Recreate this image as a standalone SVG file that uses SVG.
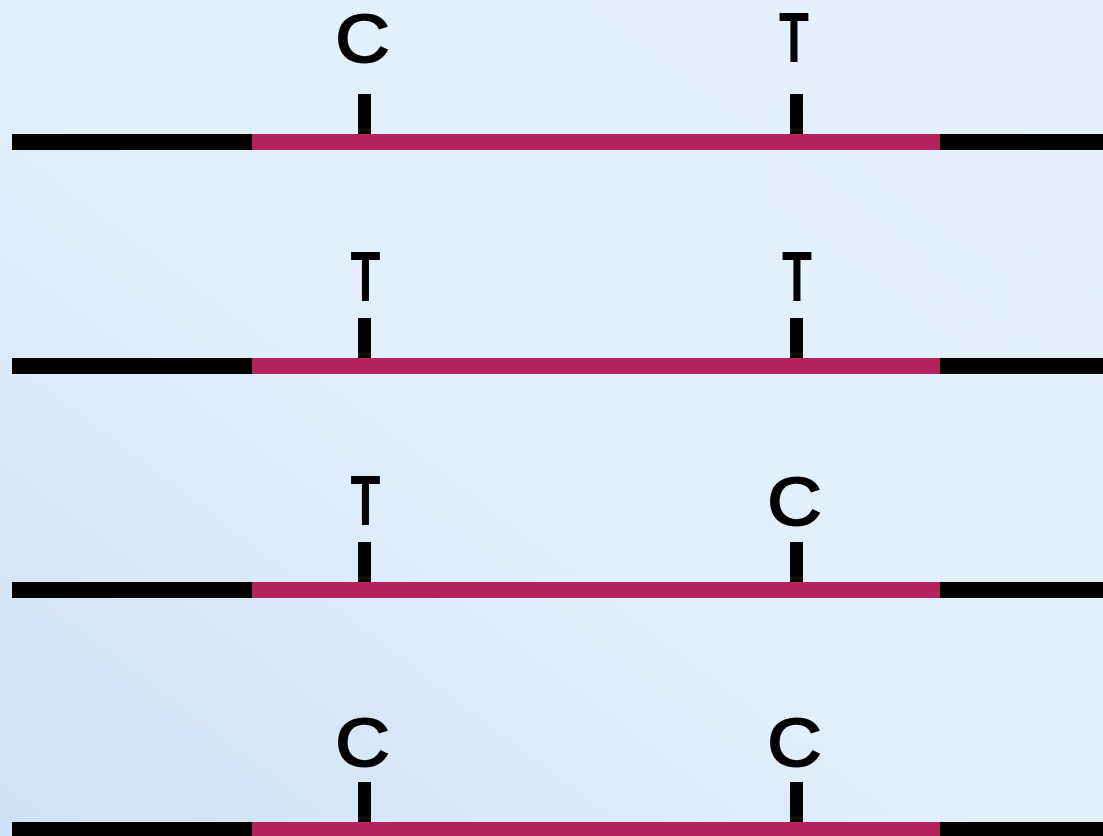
<svg xmlns="http://www.w3.org/2000/svg" width="1103" height="836" viewBox="0 0 1103 836">
  <defs>
    <linearGradient id="bg" x1="0" y1="1" x2="1" y2="0">
      <stop offset="0" stop-color="#CFE1F5"/>
      <stop offset="0.45" stop-color="#E1EFFC"/>
      <stop offset="1" stop-color="#E5F2FD"/>
    </linearGradient>
  </defs>
  <style>
    .blk { fill: #000000; }
    .mag { fill: #B22360; }
    .tick { fill: #000000; }
    .lbl { font-family: "Liberation Sans", Arial, sans-serif; font-weight: bold; font-size: 70px; fill: #000000; text-anchor: middle; }
    .lblc { font-family: "Liberation Sans", Arial, sans-serif; font-weight: normal; font-size: 68px; fill: #000000; stroke: #000000; stroke-width: 2.2; text-anchor: middle; }
  </style>
  <rect x="0" y="0" width="1103" height="836" fill="url(#bg)"/>

  <g id="row1">
    <rect class="blk" x="12" y="134" width="240" height="16"/>
    <rect class="mag" x="252" y="134" width="688" height="16"/>
    <rect class="blk" x="940" y="134" width="163" height="16"/>
    <rect class="tick" x="358" y="94" width="13" height="40"/>
    <rect class="tick" x="790" y="94" width="13" height="40"/>
    <text class="lblc" transform="translate(362.5,62) scale(1.1,1)">C</text>
    <text class="lbl" transform="translate(794,62) scale(0.7,1)">T</text>
  </g>

  <g id="row2">
    <rect class="blk" x="12" y="358" width="240" height="16"/>
    <rect class="mag" x="252" y="358" width="688" height="16"/>
    <rect class="blk" x="940" y="358" width="163" height="16"/>
    <rect class="tick" x="358" y="318" width="13" height="40"/>
    <rect class="tick" x="790" y="318" width="13" height="40"/>
    <text class="lbl" transform="translate(365.5,301) scale(0.7,1)">T</text>
    <text class="lbl" transform="translate(797,301) scale(0.7,1)">T</text>
  </g>

  <g id="row3">
    <rect class="blk" x="12" y="582" width="240" height="16"/>
    <rect class="mag" x="252" y="582" width="688" height="16"/>
    <rect class="blk" x="940" y="582" width="163" height="16"/>
    <rect class="tick" x="358" y="542" width="13" height="40"/>
    <rect class="tick" x="790" y="542" width="13" height="40"/>
    <text class="lbl" transform="translate(365.5,525) scale(0.7,1)">T</text>
    <text class="lblc" transform="translate(794.5,525) scale(1.1,1)">C</text>
  </g>

  <g id="row4">
    <rect class="blk" x="12" y="822" width="240" height="16"/>
    <rect class="mag" x="252" y="822" width="688" height="16"/>
    <rect class="blk" x="940" y="822" width="163" height="16"/>
    <rect class="tick" x="358" y="782" width="13" height="40"/>
    <rect class="tick" x="790" y="782" width="13" height="40"/>
    <text class="lblc" transform="translate(362.5,766) scale(1.1,1)">C</text>
    <text class="lblc" transform="translate(794.5,766) scale(1.1,1)">C</text>
  </g>
</svg>
